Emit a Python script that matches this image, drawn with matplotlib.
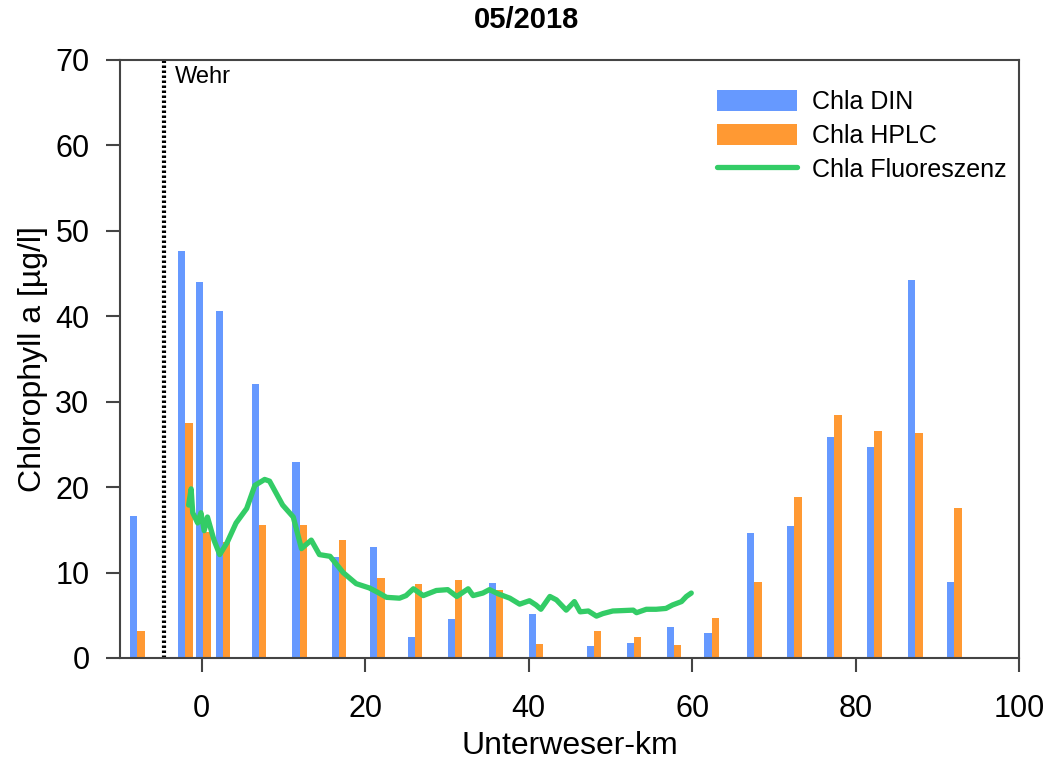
import matplotlib
matplotlib.use("Agg")
import numpy as np
import matplotlib.pyplot as plt

plt.rcParams['font.family'] = ['Liberation Sans', 'DejaVu Sans']

# station positions (Unterweser-km) and chlorophyll values
station_km = [-7.9, -2.0, 0.2, 2.6, 7.0, 12.0, 16.8, 21.5, 26.1, 31.0, 36.0,
              40.9, 48.0, 52.9, 57.8, 62.4, 67.6, 72.5, 77.4, 82.3, 87.3, 92.1]
chla_din = [16.6, 47.6, 44.0, 40.6, 32.1, 22.9, 11.8, 13.0, 2.4, 4.6, 8.8,
            5.1, 1.4, 1.8, 3.6, 2.9, 14.6, 15.4, 25.9, 24.7, 44.2, 8.9]
chla_hplc = [3.1, 27.5, 14.7, 13.6, 15.6, 15.6, 13.8, 9.4, 8.7, 9.1, 7.9,
             1.6, 3.1, 2.4, 1.5, 4.7, 8.9, 18.8, 28.4, 26.6, 26.3, 17.6]

# fluorescence profile
fluo_km = [-1.6, -1.3, -1.1, -0.5, -0.1, 0.3, 0.7, 1.5, 2.2, 3.1, 4.2, 5.5,
           6.5, 7.7, 8.3, 9.9, 11.2, 12.2, 13.4, 14.4, 15.7, 17.3, 18.9,
           20.5, 21.7, 22.6, 24.2, 25.0, 25.9, 27.1, 28.7, 30.1, 31.2, 32.6,
           33.2, 34.4, 35.2, 36.3, 37.7, 38.9, 40.1, 40.9, 41.5, 42.6, 43.4,
           44.6, 45.6, 46.3, 47.3, 48.3, 49.1, 50.3, 52.8, 53.2, 54.4, 55.6,
           56.8, 57.6, 58.7, 59.3, 59.9]
fluo_val = [17.9, 19.8, 17.0, 15.8, 17.0, 14.9, 16.5, 13.8, 12.1, 13.5, 15.8,
            17.5, 20.2, 20.9, 20.7, 17.9, 16.5, 12.8, 13.8, 12.1, 11.9, 10.0,
            8.7, 8.2, 7.6, 7.1, 7.0, 7.3, 8.1, 7.3, 7.9, 8.0, 7.2, 8.1, 7.3,
            7.6, 8.0, 7.5, 7.0, 6.3, 6.7, 6.2, 5.7, 7.2, 6.8, 5.6, 6.6, 5.4,
            5.5, 4.9, 5.2, 5.5, 5.6, 5.3, 5.7, 5.7, 5.8, 6.2, 6.6, 7.2, 7.6]

wehr_km = -4.6

blue = '#6699FF'
orange = '#FF9933'
green = '#33CC66'
axcol = '#444444'

fig = plt.figure(figsize=(10.49, 7.65), dpi=100)
ax = fig.add_axes([0.1144, 0.1399, 0.8570, 0.7817])

w = 0.9
x = np.array(station_km)
b1 = ax.bar(x - w / 2, chla_din, width=w, color=blue, label='Chla DIN', zorder=2)
b2 = ax.bar(x + w / 2, chla_hplc, width=w, color=orange, label='Chla HPLC', zorder=2)
l1, = ax.plot(fluo_km, fluo_val, color=green, lw=3.8, label='Chla Fluoreszenz',
              solid_capstyle='round', solid_joinstyle='round', zorder=3)

# weir marker
ax.axvline(wehr_km, color='black', ls=(0, (0.6, 0.6)), lw=3, zorder=1)
ax.text(wehr_km + 1.3, 69.3, 'Wehr', fontsize=17, va='top', ha='left')

ax.set_xlim(-10, 100)
ax.set_ylim(0, 70)
ax.set_xticks([0, 20, 40, 60, 80, 100])
ax.set_yticks(range(0, 71, 10))
ax.tick_params(labelsize=22, length=10, width=1.5, color=axcol, pad=12)
ax.tick_params(axis='x', pad=16)
for s in ax.spines.values():
    s.set_linewidth(1.5)
    s.set_color(axcol)

ax.set_xlabel('Unterweser-km', fontsize=23, labelpad=5)
ax.set_ylabel('Chlorophyll a [µg/l]', fontsize=23, labelpad=5)
fig.text(0.502, 0.974, '05/2018', fontsize=21, fontweight='bold',
         ha='center', va='center')

fig.legend([b1, b2, l1], ['Chla DIN', 'Chla HPLC', 'Chla Fluoreszenz'],
           loc='upper left', bbox_to_anchor=(694 / 1049, 1 - 67 / 765),
           frameon=False, fontsize=18, handlelength=3.2, handleheight=0.92,
           handletextpad=0.6, labelspacing=0.4, borderpad=0.4)

fig.savefig('out.png', dpi=100)
